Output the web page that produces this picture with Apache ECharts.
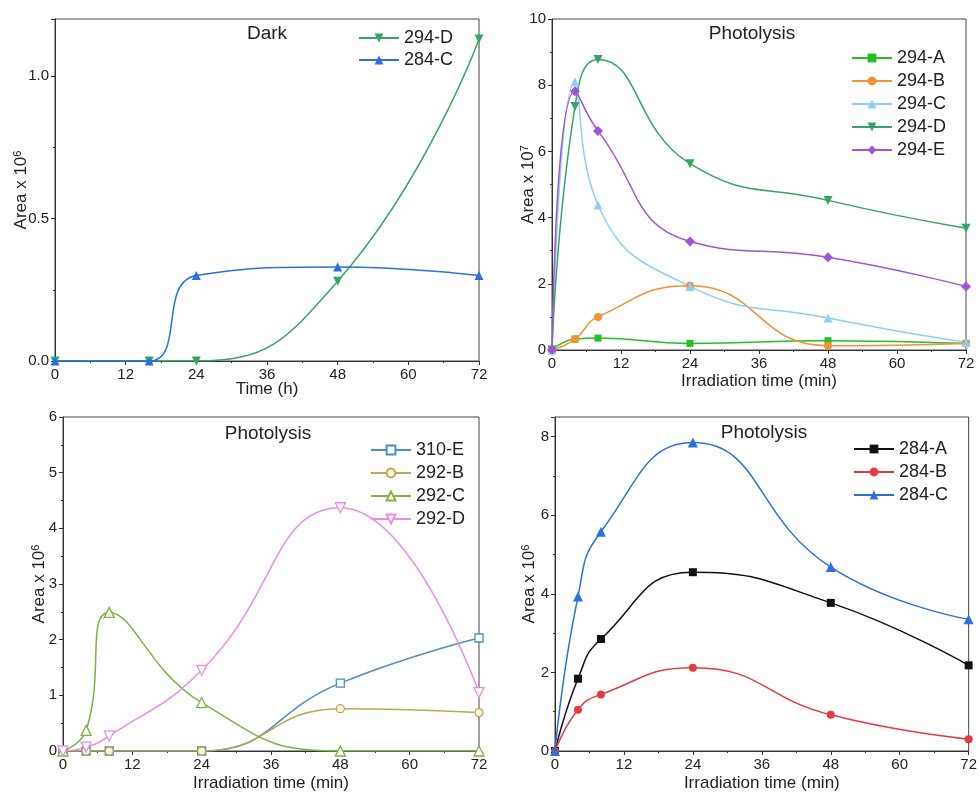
<!DOCTYPE html>
<html><head><meta charset="utf-8">
<script src="https://cdn.jsdelivr.net/npm/echarts@6/dist/echarts.min.js"></script>
<style>html,body{margin:0;padding:0;background:#fff}#c{width:980px;height:794px}</style>
</head><body><div id="c"></div>
<script>
// ---- data ----
const xTicks = [0, 12, 24, 36, 48, 60, 72];
// Panel 1: Dark (Area x 10^6), time in h
const xDark = [0, 16, 24, 48, 72];
const dark294D = [0, 0, 0, 0.28, 1.13];
const dark284C = [0, 0, 0.30, 0.33, 0.30];
// Panels 2-4: irradiation time (min)
const xIrr = [0, 4, 8, 24, 48, 72];
// Panel 2 (Area x 10^7)
const p294A = [0, 0.33, 0.36, 0.20, 0.28, 0.20];
const p294B = [0, 0.33, 1.00, 1.94, 0.13, 0.20];
const p294C = [0, 8.10, 4.38, 1.92, 0.97, 0.23];
const p294D = [0, 7.36, 8.78, 5.63, 4.52, 3.68];
const p294E = [0, 7.82, 6.62, 3.28, 2.80, 1.92];
// Panel 3 (Area x 10^6)
const p310E = [0, 0, 0, 0, 1.22, 2.03];
const p292B = [0, 0, 0, 0, 0.76, 0.69];
const p292C = [0, 0.37, 2.49, 0.87, 0, 0];
const p292D = [0, 0.07, 0.27, 1.45, 4.37, 1.05];
// Panel 4 (Area x 10^6)
const p284A = [0, 1.84, 2.85, 4.55, 3.77, 2.18];
const p284B = [0, 1.05, 1.44, 2.12, 0.92, 0.30];
const p284C = [0, 3.93, 5.58, 7.85, 4.68, 3.35];

const titles = ['Dark', 'Photolysis', 'Photolysis', 'Photolysis'];
const xNames = ['Time (h)', 'Irradiation time (min)', 'Irradiation time (min)', 'Irradiation time (min)'];
const yExp = ['6', '7', '6', '6'];

// ---- layout / style ----
const FONT = '"Liberation Sans", Arial, sans-serif';
const grids = [
  {left: 55, top: 19, width: 424, height: 342},
  {left: 552, top: 19, width: 414, height: 331},
  {left: 63, top: 417, width: 416, height: 334},
  {left: 555, top: 417, width: 414, height: 334}
];
const yCfg = [
  {max: 1.2, interval: 0.5, fmt: v => v.toFixed(1), gap: 24},
  {max: 10, interval: 2, fmt: v => String(v), gap: 14},
  {max: 6, interval: 1, fmt: v => String(v), gap: 14},
  {max: 8.5, interval: 2, fmt: v => String(v), gap: 16}
];
const xGap = [20, 23, 24, 24];

function pairs(xs, ys) { return xs.map((x, i) => [x, ys[i]]); }

const xAxes = grids.map((g, i) => ({
  gridIndex: i, type: 'value', min: 0, max: 72, interval: 12,
  name: xNames[i], nameLocation: 'middle', nameGap: xGap[i], nameMoveOverlap: false,
  nameTextStyle: {fontFamily: FONT, fontSize: 17, color: '#222'},
  axisLine: {show: true, onZero: false, lineStyle: {color: '#333', width: 1}},
  axisTick: {show: true, inside: false, length: 4, lineStyle: {color: '#333'}},
  minorTick: {show: true, splitNumber: 2, length: 2, lineStyle: {color: '#333'}},
  axisLabel: {fontFamily: FONT, fontSize: 15, color: '#222', margin: 6},
  splitLine: {show: false}
}));
const yAxes = grids.map((g, i) => ({
  gridIndex: i, type: 'value', min: 0, max: yCfg[i].max, interval: yCfg[i].interval,
  name: 'Area x 10{s|' + yExp[i] + '}', nameLocation: 'middle', nameGap: yCfg[i].gap,
  nameMoveOverlap: false,
  nameTextStyle: {fontFamily: FONT, fontSize: 17, color: '#222',
    rich: {s: {fontFamily: FONT, fontSize: 11, color: '#222', verticalAlign: 'top', padding: [0, 0, 8, 0]}}},
  axisLine: {show: true, onZero: false, lineStyle: {color: '#333', width: 1}},
  axisTick: {show: true, inside: false, length: 4, lineStyle: {color: '#333'}},
  minorTick: {show: true, splitNumber: 2, length: 2, lineStyle: {color: '#333'}},
  axisLabel: {fontFamily: FONT, fontSize: 15, color: '#222', margin: 6,
    showMaxLabel: (yCfg[i].max % yCfg[i].interval === 0), formatter: yCfg[i].fmt},
  splitLine: {show: false}
}));

function line(name, idx, xs, ys, color, symbol, opts) {
  opts = opts || {};
  return {
    name: name, type: 'line', xAxisIndex: idx, yAxisIndex: idx,
    data: pairs(xs, ys), smooth: 0.5,
    symbol: symbol, symbolSize: opts.size || 8, symbolRotate: opts.rot || 0,
    showAllSymbol: true,
    lineStyle: {color: color, width: 1.5},
    itemStyle: opts.open ? {color: opts.fill || '#fff', borderColor: color, borderWidth: 1.3}
                         : {color: color, borderColor: color, borderWidth: 0},
    color: color, z: opts.z || 2, animation: false
  };
}

const C = {
  a294: '#22c022', b294: '#f39234', c294: '#8dcff5', d294: '#35a565', e294: '#a053d6',
  c284: '#2b70dd', e310: '#4b8fc4', b292: '#bba852', c292: '#7cb342', d292: '#e88ee8',
  a284: '#111111', b284: '#e83a3e'
};

const series = [
  line('294-D', 0, xDark, dark294D, C.d294, 'triangle', {rot: 180, size: 9}),
  line('284-C', 0, xDark, dark284C, C.c284, 'triangle', {size: 9, z: 3}),
  line('294-A', 1, xIrr, p294A, C.a294, 'rect', {size: 7}),
  line('294-B', 1, xIrr, p294B, C.b294, 'circle', {size: 8}),
  line('294-C', 1, xIrr, p294C, C.c294, 'triangle', {size: 9}),
  line('294-D', 1, xIrr, p294D, C.d294, 'triangle', {rot: 180, size: 9}),
  line('294-E', 1, xIrr, p294E, C.e294, 'diamond', {size: 10}),
  line('310-E', 2, xIrr, p310E, C.e310, 'rect', {size: 8, open: true}),
  line('292-B', 2, xIrr, p292B, C.b292, 'circle', {size: 8, open: true, fill: '#fbf7dc'}),
  line('292-C', 2, xIrr, p292C, C.c292, 'triangle', {size: 10, open: true}),
  line('292-D', 2, xIrr, p292D, C.d292, 'triangle', {rot: 180, size: 10, open: true}),
  line('284-A', 3, xIrr, p284A, C.a284, 'rect', {size: 8}),
  line('284-B', 3, xIrr, p284B, C.b284, 'circle', {size: 8}),
  line('284-C', 3, xIrr, p284C, C.c284, 'triangle', {size: 10})
];

const legendPos = [
  {left: 358, top: 29, gap: 4, data: ['294-D', '284-C']},
  {left: 851, top: 49, gap: 5, data: ['294-A', '294-B', '294-C', '294-D', '294-E']},
  {left: 370, top: 441, gap: 5, data: ['310-E', '292-B', '292-C', '292-D']},
  {left: 853, top: 440, gap: 5, data: ['284-A', '284-B', '284-C']}
];
const legends = legendPos.map(l => ({
  orient: 'vertical', left: l.left, top: l.top, data: l.data, padding: 0,
  itemWidth: 40, itemHeight: 11, itemGap: l.gap, selectedMode: false,
  textStyle: {fontFamily: FONT, fontSize: 18, color: '#222', padding: [0, 0, 0, 0]}
}));

const titlePos = [[267, 24], [752, 24], [268, 424], [764, 423]];
const titleOpts = titles.map((t, i) => ({
  text: t, left: titlePos[i][0], top: titlePos[i][1], textAlign: 'center', padding: 0,
  textStyle: {fontFamily: FONT, fontSize: 19, fontWeight: 'normal', color: '#222'}
}));

const chart = echarts.init(document.getElementById('c'), null, {renderer: 'canvas'});
chart.setOption({
  backgroundColor: '#fff',
  animation: false,
  title: titleOpts,
  legend: legends,
  grid: grids.map(g => Object.assign({show: true, borderColor: '#444', borderWidth: 1, backgroundColor: 'transparent'}, g)),
  xAxis: xAxes,
  yAxis: yAxes,
  series: series
});
</script></body></html>
